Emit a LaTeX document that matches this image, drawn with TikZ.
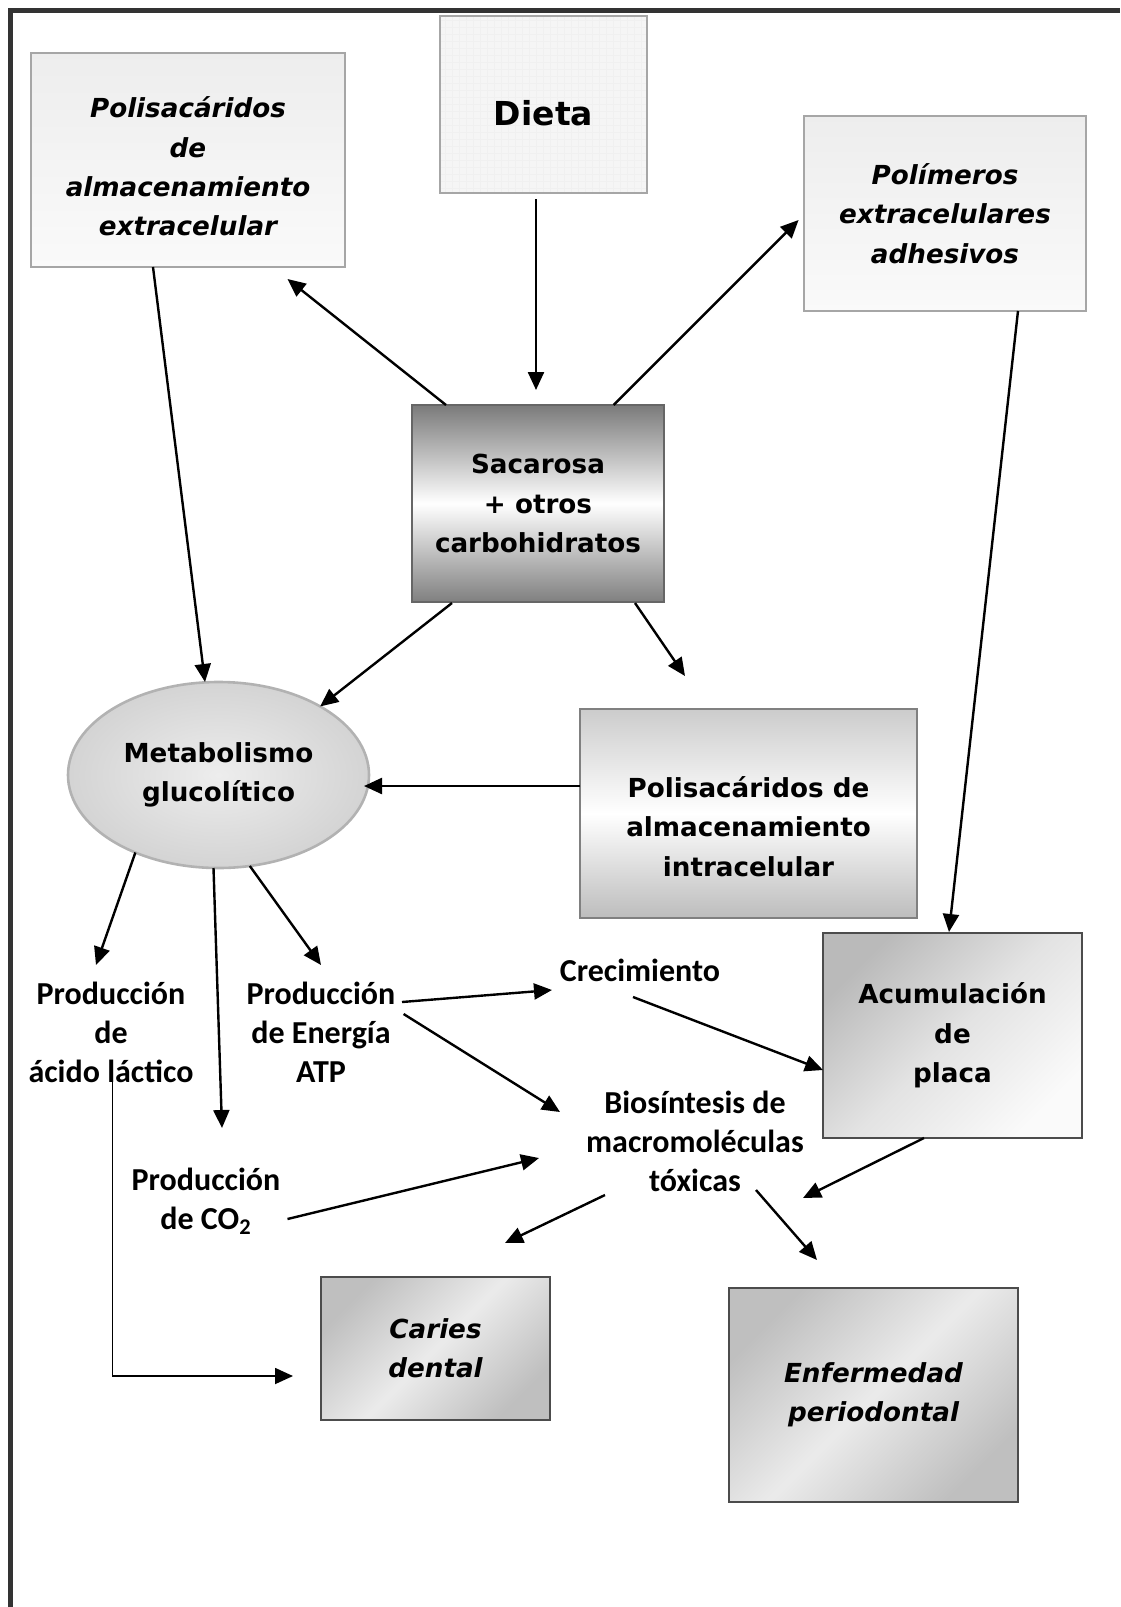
\documentclass[tikz,border=0pt]{standalone}
\usepackage{fontspec}
\usepackage{tikz}
\usetikzlibrary{arrows.meta,calc,shapes.geometric}
\newfontfamily\comic{DejaVu Sans}
\newfontfamily\calib{Carlito}
\newcommand{\prodn}{Producción}
\newcommand{\almac}{almacenamiento}
\newcommand{\boxfont}{\comic\bfseries\fontsize{13.1}{19.7}\selectfont}
\newcommand{\toprule}[1]{\rule{0pt}{#1}}
\tikzset{
  box/.style={
    rectangle, draw=black!35, line width=0.8pt, inner sep=0pt, outer sep=0pt,
    align=center, font=\boxfont
  },
  slant/.style={font=\boxfont\itshape},
  palebox/.style={box, top color=black!7, bottom color=black!2},
  gridbox/.style={box, fill=black!4, path picture={
      \draw[black!6, line width=0.2pt, step=3.5pt]
        (path picture bounding box.south west) grid (path picture bounding box.north east);}},
  sacbox/.style={box, draw=black!60, top color=black!52, bottom color=black!50, middle color=white},
  intrabox/.style={box, draw=black!50, top color=black!20, bottom color=black!26, middle color=white},
  shadebox/.style={box, draw=black!70, line width=1pt,
    top color=black!25, bottom color=black!25, middle color=black!8, shading angle=45},
  platebox/.style={box, draw=black!70, line width=1pt,
    top color=black!27, bottom color=black!2, middle color=black!11, shading angle=45},
  oval/.style={
    ellipse, draw=black!30, line width=1.3pt, inner sep=0pt, outer sep=0pt,
    inner color=black!7, outer color=black!17, align=center, font=\boxfont
  },
  note/.style={align=center, inner sep=0pt, font=\calib\bfseries\fontsize{16}{19.5}\selectfont},
  arrow/.style={-{Triangle[length=9pt,width=8pt]}, line width=1.2pt, draw=black}
}
\begin{document}
\begin{tikzpicture}[x=0.5pt,y=-0.5pt]
  \useasboundingbox (0,0) rectangle (1120,1607);
  \draw[black!80, line width=2.5pt] (10,1607) -- (10,10) -- (1120,10);

  \node[palebox, slant, minimum width=157pt, minimum height=107pt] (polext) at (188,160)
    {\toprule{17pt}Polisacáridos\\de\\\almac\\extracelular};
  \node[gridbox, minimum width=103.5pt, minimum height=88.5pt,
    font=\comic\bfseries\fontsize{16.5}{20}\selectfont] (dieta) at (543.5,104.5)
    {\toprule{21pt}Dieta};
  \node[palebox, slant, minimum width=141pt, minimum height=97.5pt] (polim) at (945,213.5)
    {Polímeros\\extracelulares\\adhesivos};
  \node[sacbox, minimum width=126pt, minimum height=98.5pt] (sac) at (538,503.5)
    {Sacarosa\\+ otros\\carbohidratos};
  \node[oval, minimum width=150.5pt, minimum height=93pt] (glyc) at (218.5,775)
    {Metabolismo\\glucolítico};
  \node[intrabox, minimum width=168.5pt, minimum height=104.5pt] (intra) at (748.5,813.5)
    {\toprule{23.5pt}Polisacáridos de\\\almac\\intracelular};
  \node[platebox, minimum width=129.5pt, minimum height=102.5pt] (acum) at (952.5,1035.5)
    {Acumulación\\de\\placa};
  \node[shadebox, slant, minimum width=114.5pt, minimum height=71.5pt] (caries) at (435.5,1348.5)
    {Caries\\dental};
  \node[shadebox, slant, minimum width=144.5pt, minimum height=107pt] (perio) at (873.5,1395)
    {Enfermedad\\periodontal};

  \node[note] (lactic) at (111,1032) {\prodn\\de\\ácido láctico};
  \node[note] (atp) at (321,1032) {\prodn\\de Energía\\ATP};
  \node[note] (co2) at (206,1201) {\prodn\\de CO\textsubscript{2}};
  \node[note] (crec) at (640,970) {Crecimiento};
  \node[note] (bios) at (695,1141) {Biosíntesis de\\macromoléculas\\tóxicas};

  % upper part
  \draw[arrow] ($(dieta.south)+(-7.5,6)$) -- ($(sac.north)+(-2,-15)$);
  \draw[arrow] ($(sac.north west)+(34,0)$) -- ($(polext.south east)+(-57.5,12)$);
  \draw[arrow] ($(sac.north east)+(-50.4,0)$) -- ($(polim.west)+(-5.4,6.5)$);
  \draw[arrow] ($(polext.south)+(-35,0)$) -- ($(glyc.north)+(-13.5,0)$);
  \draw[arrow] ($(polim.south)+(73,0)$) -- ($(acum.north)+(-3.5,-1)$);
  \draw[arrow] ($(sac.south west)+(40,1)$) -- (glyc.34);
  \draw[arrow] ($(sac.south east)+(-29,1)$) -- ($(intra.north west)+(105,-33)$);
  \draw[arrow] ($(intra.west)+(0,-27.5)$) -- ($(glyc.east)+(-5,11)$);

  % lower part
  \draw[arrow] (glyc.223) -- ($(lactic)+(-15,-67)$);
  \draw[arrow] ($(glyc.south)+(-5,0)$) -- ($(co2)+(16,-73)$);
  \draw[arrow] (glyc.-71) -- ($(atp)+(0,-67)$);
  \draw[arrow] ($(atp)+(81,-30)$) -- ($(crec)+(-88,20)$);
  \draw[arrow] ($(atp)+(82.6,-18)$) -- ($(bios)+(-135,-29)$);
  \draw[arrow] ($(co2)+(81.5,18)$) -- ($(bios)+(-156,17)$);
  \draw[arrow] ($(crec)+(-7,27)$) -- ($(acum.west)+(0,34.5)$);
  \draw[arrow] ($(acum.south)+(-28.5,0)$) -- ($(bios)+(108,57)$);
  \draw[arrow] ($(bios)+(61,49)$) -- ($(perio.north)+(-56.5,-28)$);
  \draw[arrow] ($(bios)+(-90,54)$) -- ($(caries.north east)+(-45,-34)$);
  \draw[arrow, line width=0.9pt] ($(lactic)+(1.5,48)$) |- ($(caries.west)+(-28,27.5)$);
\end{tikzpicture}
\end{document}
